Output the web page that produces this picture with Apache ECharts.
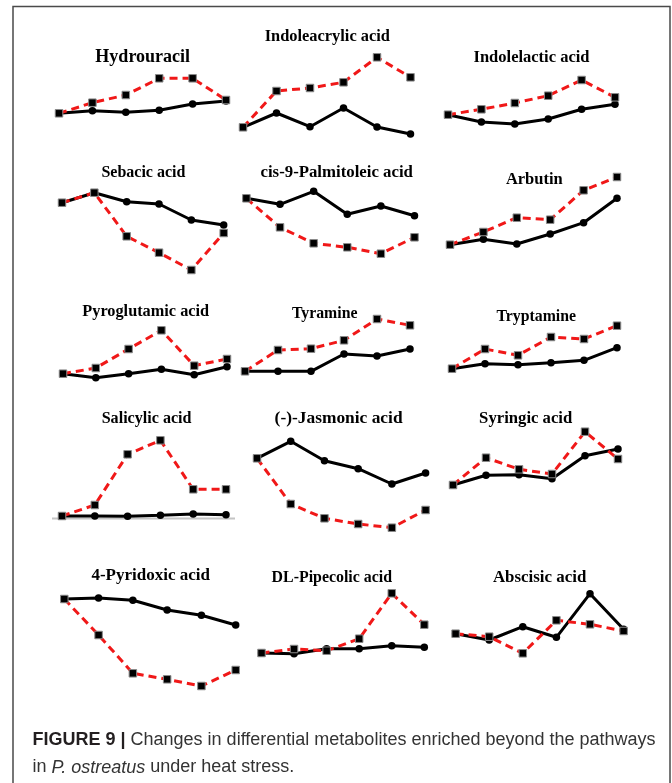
<!DOCTYPE html>
<html>
<head>
<meta charset="utf-8">
<script src="https://cdn.jsdelivr.net/npm/echarts@6/dist/echarts.min.js"></script>
<style>
  html, body { margin: 0; padding: 0; background: #ffffff; }
  #chart { width: 672px; height: 783px; }
</style>
</head>
<body>
<div id="chart"></div>
<script>
// ---- Data (relative levels, arbitrary units) ----
const categories = ['1', '2', '3', '4', '5', '6'];

const hydrouracilBlack   = [2.67, 2.93, 2.77, 2.97, 3.60, 3.90];
const hydrouracilRed     = [2.67, 3.73, 4.50, 6.17, 6.17, 4.00];
const indoleacrylicBlack = [1.27, 2.70, 1.33, 3.20, 1.30, 0.60];
const indoleacrylicRed   = [1.27, 4.90, 5.20, 5.77, 8.27, 6.27];
const indolelacticBlack  = [2.53, 1.80, 1.60, 2.10, 3.07, 3.57];
const indolelacticRed    = [2.53, 3.07, 3.70, 4.43, 6.00, 4.27];

const sebacicBlack       = [7.73, 8.73, 7.83, 7.60, 6.00, 5.50];
const sebacicRed         = [7.73, 8.73, 4.37, 2.73, 1.00, 4.70];
const palmitoleicBlack   = [8.17, 7.57, 8.87, 6.57, 7.40, 6.43];
const palmitoleicRed     = [8.17, 5.27, 3.67, 3.27, 2.63, 4.27];
const arbutinBlack       = [3.53, 4.07, 3.60, 4.60, 5.73, 8.17];
const arbutinRed         = [3.53, 4.80, 6.23, 6.03, 8.97, 10.30];

const pyroglutamicBlack  = [0.63, 0.23, 0.63, 1.07, 0.53, 1.33];
const pyroglutamicRed    = [0.63, 1.20, 3.10, 4.97, 1.43, 2.10];
const tyramineBlack      = [0.87, 0.87, 0.87, 2.60, 2.40, 3.10];
const tyramineRed        = [0.87, 3.00, 3.13, 3.97, 6.10, 5.47];
const tryptamineBlack    = [1.13, 1.63, 1.53, 1.73, 1.97, 3.23];
const tryptamineRed      = [1.13, 3.10, 2.47, 4.30, 4.10, 5.43];

const salicylicBlack     = [1.40, 1.40, 1.37, 1.47, 1.60, 1.53];
const salicylicRed       = [1.40, 2.50, 7.57, 8.97, 4.07, 4.07];
const jasmonicBlack      = [7.17, 8.87, 6.93, 6.13, 4.60, 5.70];
const jasmonicRed        = [7.17, 2.60, 1.17, 0.60, 0.23, 2.00];
const syringicBlack      = [4.50, 5.47, 5.53, 5.13, 7.43, 8.10];
const syringicRed        = [4.50, 7.23, 6.07, 5.60, 9.83, 7.10];

const pyridoxicBlack     = [9.10, 9.20, 8.97, 8.00, 7.47, 6.50];
const pyridoxicRed       = [9.10, 5.50, 1.67, 1.07, 0.40, 2.00];
const pipecolicBlack     = [3.70, 3.63, 4.13, 4.13, 4.43, 4.27];
const pipecolicRed       = [3.70, 4.10, 3.93, 5.13, 9.67, 6.53];
const abscisicBlack      = [5.63, 5.00, 6.33, 5.27, 9.63, 6.07];
const abscisicRed        = [5.63, 5.33, 3.67, 6.97, 6.57, 5.90];

const titles = [
  'Hydrouracil', 'Indoleacrylic acid', 'Indolelactic acid',
  'Sebacic acid', 'cis-9-Palmitoleic acid', 'Arbutin',
  'Pyroglutamic acid', 'Tyramine', 'Tryptamine',
  'Salicylic acid', '(-)-Jasmonic acid', 'Syringic acid',
  '4-Pyridoxic acid', 'DL-Pipecolic acid', 'Abscisic acid'
];
const blackSeries = [
  hydrouracilBlack, indoleacrylicBlack, indolelacticBlack,
  sebacicBlack, palmitoleicBlack, arbutinBlack,
  pyroglutamicBlack, tyramineBlack, tryptamineBlack,
  salicylicBlack, jasmonicBlack, syringicBlack,
  pyridoxicBlack, pipecolicBlack, abscisicBlack
];
const redSeries = [
  hydrouracilRed, indoleacrylicRed, indolelacticRed,
  sebacicRed, palmitoleicRed, arbutinRed,
  pyroglutamicRed, tyramineRed, tryptamineRed,
  salicylicRed, jasmonicRed, syringicRed,
  pyridoxicRed, pipecolicRed, abscisicRed
];

// ---- Layout (pixels) ----
const rows = [
  { top: 50,  bottom: 140 },
  { top: 170, bottom: 280 },
  { top: 310, bottom: 380 },
  { top: 420, bottom: 530 },
  { top: 580, bottom: 690 }
];
// [xLeft, xRight, titleX, titleY, titleSize]
const panelLayout = [
  [59, 226, 142.7, 57.5, 18],   [243, 410.5, 327.3, 36.5, 16.4], [448, 615, 531.5, 58, 16.5],
  [62, 223.7, 143.4, 172.5, 16], [246.4, 414.5, 336.7, 172.5, 16.8], [450, 617, 534.3, 179.5, 16.5],
  [63, 227, 145.7, 311.5, 16.3], [245, 410, 324.7, 313.5, 15.8], [452, 617, 536.2, 317, 15.8],
  [62, 226, 146.6, 419, 16.1],   [257, 425.6, 338.6, 419, 17.4], [453, 618, 525.7, 419, 16.7],
  [64.3, 235.7, 150.7, 576, 17], [261.5, 424.3, 331.8, 578, 15.9], [455.6, 623.6, 539.6, 578, 16.9]
];

const grids = [], xAxes = [], yAxes = [], series = [], graphics = [];

// frame
graphics.push({
  type: 'rect', z: 0,
  shape: { x: 13, y: 6.5, width: 657, height: 800 },
  style: { fill: null, stroke: '#4a4a4a', lineWidth: 1.5 }
});
// grey baseline under Salicylic acid
graphics.push({
  type: 'line', z: 0,
  shape: { x1: 52, y1: 518.5, x2: 235, y2: 518.5 },
  style: { stroke: '#c4c4c4', lineWidth: 2 }
});

titles.forEach((t, i) => {
  const r = rows[Math.floor(i / 3)];
  const L = panelLayout[i];
  grids.push({ left: L[0], width: L[1] - L[0], top: r.top, height: r.bottom - r.top, containLabel: false });
  xAxes.push({ type: 'category', gridIndex: i, data: categories, boundaryGap: false, show: false });
  yAxes.push({ type: 'value', gridIndex: i, min: 0, max: (r.bottom - r.top) / 10, show: false });
  series.push({
    name: 'Control', type: 'line', xAxisIndex: i, yAxisIndex: i, data: blackSeries[i],
    clip: false, z: 2,
    symbol: 'circle', symbolSize: 7.5, showAllSymbol: true,
    lineStyle: { color: '#000000', width: 3 },
    itemStyle: { color: '#000000' }
  });
  series.push({
    name: 'Heat stress', type: 'line', xAxisIndex: i, yAxisIndex: i, data: redSeries[i],
    clip: false, z: 3,
    symbol: 'rect', symbolSize: 7.5, showAllSymbol: true,
    lineStyle: { color: '#f01818', width: 3, type: [8, 5] },
    itemStyle: { color: '#000000', borderColor: '#8a8a8a', borderWidth: 1 }
  });
  graphics.push({
    type: 'text', z: 5,
    style: {
      text: t, x: L[2], y: L[3], textAlign: 'center', textVerticalAlign: 'middle',
      fontFamily: '"Liberation Serif", "Times New Roman", serif', fontWeight: 'bold',
      fontSize: L[4], fill: '#000000'
    }
  });
});

// caption
graphics.push({
  type: 'text', z: 5,
  style: {
    text: '{b|FIGURE 9 |} Changes in differential metabolites enriched beyond the pathways',
    x: 32.5, y: 740.5, textAlign: 'left', textVerticalAlign: 'middle',
    fontFamily: '"Liberation Sans", Arial, sans-serif', fontSize: 18, fill: '#333333',
    rich: {
      b: { fontFamily: '"Liberation Sans", Arial, sans-serif', fontSize: 18, fontWeight: 'bold', fill: '#231f20' }
    }
  }
});
graphics.push({
  type: 'text', z: 5,
  style: {
    text: 'in {i|P. ostreatus} under heat stress.',
    x: 32.5, y: 767.5, textAlign: 'left', textVerticalAlign: 'middle',
    fontFamily: '"Liberation Sans", Arial, sans-serif', fontSize: 18, fill: '#333333',
    rich: {
      i: { fontFamily: '"Liberation Sans", Arial, sans-serif', fontSize: 18, fontStyle: 'italic', fill: '#333333' }
    }
  }
});

const chart = echarts.init(document.getElementById('chart'), null, { renderer: 'canvas' });
chart.setOption({
  animation: false,
  backgroundColor: '#ffffff',
  grid: grids,
  xAxis: xAxes,
  yAxis: yAxes,
  series: series,
  graphic: graphics
});
</script>
</body>
</html>
